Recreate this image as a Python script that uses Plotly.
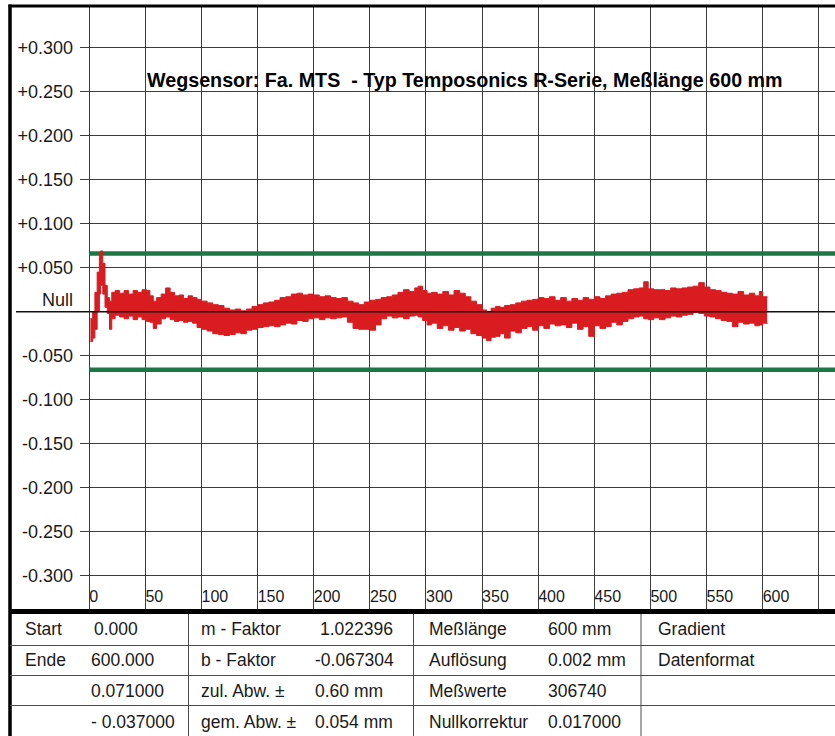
import plotly.graph_objects as go

# ---------------- data ----------------
x_pos = [1, 3, 5, 7, 9, 10, 12, 14, 16, 18, 20, 23, 27, 31, 35, 39, 43, 47, 51, 54,
         57, 60, 64, 68, 72, 76, 80, 84, 88, 92, 96, 100, 105, 110, 115, 120, 125, 130, 135, 140,
         145, 150, 155, 160, 165, 170, 175, 180, 185, 190, 195, 200, 205, 210, 215, 220, 225, 230, 235, 240,
         245, 250, 255, 260, 265, 270, 275, 280, 285, 290, 293, 297, 301, 305, 310, 315, 320, 325, 330, 335,
         340, 345, 350, 354, 358, 362, 366, 370, 375, 380, 385, 390, 395, 400, 405, 410, 415, 420, 425, 430,
         435, 440, 445, 450, 455, 460, 465, 470, 475, 480, 485, 490, 494, 498, 503, 508, 513, 518, 523, 528,
         533, 538, 543, 548, 553, 558, 563, 568, 573, 578, 583, 588, 593, 597, 600, 604]

dev_max = [-0.008, 0.000, 0.022, 0.045, 0.066, 0.069, 0.055, 0.030, 0.016, 0.012, 0.022, 0.024, 0.021, 0.024, 0.020, 0.024, 0.022, 0.025, 0.024, 0.018,
           0.012, 0.016, 0.020, 0.027, 0.022, 0.018, 0.019, 0.015, 0.018, 0.016, 0.014, 0.012, 0.010, 0.008, 0.007, 0.004, 0.002, 0.003, 0.001, 0.003,
           0.006, 0.008, 0.010, 0.011, 0.013, 0.016, 0.017, 0.020, 0.021, 0.019, 0.020, 0.019, 0.017, 0.018, 0.016, 0.015, 0.016, 0.012, 0.010, 0.008,
           0.011, 0.013, 0.014, 0.016, 0.017, 0.019, 0.022, 0.025, 0.023, 0.027, 0.029, 0.024, 0.021, 0.022, 0.020, 0.023, 0.019, 0.024, 0.021, 0.017,
           0.012, 0.008, 0.002, -0.001, 0.004, 0.006, 0.005, 0.007, 0.008, 0.010, 0.012, 0.013, 0.014, 0.016, 0.015, 0.017, 0.013, 0.016, 0.012, 0.015,
           0.013, 0.016, 0.014, 0.017, 0.015, 0.018, 0.020, 0.021, 0.022, 0.025, 0.026, 0.027, 0.034, 0.026, 0.025, 0.025, 0.024, 0.027, 0.026, 0.027,
           0.028, 0.029, 0.033, 0.028, 0.025, 0.024, 0.022, 0.021, 0.020, 0.023, 0.019, 0.021, 0.018, 0.023, 0.017, 0.016]

dev_min = [-0.034, -0.030, -0.020, 0.000, 0.020, 0.030, 0.020, 0.005, -0.002, -0.020, -0.008, -0.004, -0.006, -0.008, -0.005, -0.009, -0.006, -0.009, -0.011, -0.012,
           -0.019, -0.014, -0.008, -0.006, -0.009, -0.011, -0.010, -0.012, -0.011, -0.013, -0.018, -0.020, -0.022, -0.025, -0.026, -0.027, -0.026, -0.024, -0.025, -0.021,
           -0.020, -0.018, -0.017, -0.016, -0.017, -0.015, -0.013, -0.014, -0.010, -0.011, -0.008, -0.007, -0.009, -0.007, -0.008, -0.007, -0.006, -0.012, -0.019, -0.020,
           -0.020, -0.021, -0.015, -0.008, -0.005, -0.007, -0.006, -0.008, -0.005, -0.004, -0.006, -0.010, -0.015, -0.013, -0.019, -0.016, -0.021, -0.018, -0.022, -0.020,
           -0.025, -0.027, -0.030, -0.033, -0.029, -0.028, -0.025, -0.030, -0.022, -0.024, -0.019, -0.017, -0.021, -0.016, -0.019, -0.014, -0.016, -0.015, -0.018, -0.013,
           -0.020, -0.017, -0.028, -0.016, -0.019, -0.017, -0.012, -0.015, -0.011, -0.008, -0.006, -0.005, -0.008, -0.009, -0.007, -0.009, -0.007, -0.005, -0.006, -0.004,
           -0.003, -0.001, -0.002, -0.005, -0.006, -0.008, -0.010, -0.011, -0.017, -0.012, -0.014, -0.013, -0.016, -0.015, -0.013, -0.014]

tolerance = 0.066
x_ticks = [0, 50, 100, 150, 200, 250, 300, 350, 400, 450, 500, 550, 600, 650]
x_ticklabels = ["0", "50", "100", "150", "200", "250", "300", "350", "400", "450", "500", "550", "600", ""]
y_ticks = [0.30, 0.25, 0.20, 0.15, 0.10, 0.05, 0.0, -0.05, -0.10, -0.15, -0.20, -0.25, -0.30]
y_ticklabels = ["+0.300", "+0.250", "+0.200", "+0.150", "+0.100", "+0.050", "Null<br>\u00a0",
                "-0.050", "-0.100", "-0.150", "-0.200", "-0.250", "-0.300"]

title_text = "Wegsensor: Fa. MTS\u00a0\u00a0- Typ Temposonics R-Serie, Meßlänge 600 mm"

table_labels = [
    ["Start", "Ende", "", ""],
    ["m - Faktor", "b - Faktor", "zul. Abw. ±", "gem. Abw. ±"],
    ["Meßlänge", "Auflösung", "Meßwerte", "Nullkorrektur"],
    ["Gradient", "Datenformat", "", ""],
]
table_values = [
    ["0.000", "600.000", "0.071000", "- 0.037000"],
    ["1.022396", "-0.067304", "0.60 mm", "0.054 mm"],
    ["600 mm", "0.002 mm", "306740", "0.017000"],
    ["", "", "", ""],
]

# ---------------- layout geometry (pixels) ----------------
W, H = 835, 736
FONT = "Liberation Sans, Arial, Helvetica, sans-serif"


def px(x):
    return x / W


def py(y):
    return 1 - y / H


fig = go.Figure()

# tolerance lines
fig.add_trace(go.Scatter(x=[0, 700], y=[tolerance, tolerance], mode="lines",
                         line=dict(color="#1b7744", width=4.5), hoverinfo="skip"))
fig.add_trace(go.Scatter(x=[0, 700], y=[-tolerance, -tolerance], mode="lines",
                         line=dict(color="#1b7744", width=4.5), hoverinfo="skip"))

# deviation band
red = "#d81c20"
fig.add_trace(go.Scatter(x=x_pos, y=dev_min, mode="lines", line=dict(color=red, width=1, shape="hv"),
                         hoverinfo="skip"))
fig.add_trace(go.Scatter(x=x_pos, y=dev_max, mode="lines", line=dict(color=red, width=1, shape="hv"),
                         fill="tonexty", fillcolor=red, hoverinfo="skip"))

shapes = []
# Null line
shapes.append(dict(type="line", xref="paper", yref="y", x0=px(16), x1=1, y0=0, y1=0,
                   line=dict(color="#111111", width=1.5), layer="above"))
# borders
shapes.append(dict(type="line", xref="paper", yref="paper", x0=px(10), x1=px(10), y0=py(4.5), y1=py(740),
                   line=dict(color="black", width=3.5)))
shapes.append(dict(type="line", xref="paper", yref="paper", x0=px(8.5), x1=1, y0=py(6), y1=py(6),
                   line=dict(color="black", width=3)))
shapes.append(dict(type="line", xref="paper", yref="paper", x0=px(10), x1=1, y0=py(611.5), y1=py(611.5),
                   line=dict(color="black", width=5)))
# table lines
for yy in [645.5, 675.5, 705.5]:
    shapes.append(dict(type="line", xref="paper", yref="paper", x0=px(10), x1=1, y0=py(yy), y1=py(yy),
                       line=dict(color="#4a4a4a", width=1)))
for xx in [188.5, 413.5, 641]:
    shapes.append(dict(type="line", xref="paper", yref="paper", x0=px(xx), x1=px(xx), y0=py(614), y1=py(740),
                       line=dict(color="#4a4a4a", width=1)))

annotations = []
annotations.append(dict(text="<b>" + title_text + "</b>", xref="paper", yref="paper",
                        x=px(145), y=py(80), xanchor="left", yanchor="middle", showarrow=False,
                        font=dict(family=FONT, size=19.7, color="black")))

row_y = [629, 660, 691, 722]
label_x = [23, 199, 427, 656]
value_x = [[92, 89, 89, 89], [318, 313, 313, 313], [546, 546, 546, 546], [760, 760, 760, 760]]
for c in range(4):
    for r in range(4):
        if table_labels[c][r]:
            annotations.append(dict(text=table_labels[c][r], xref="paper", yref="paper",
                                    x=px(label_x[c]), y=py(row_y[r]), xanchor="left", yanchor="middle",
                                    showarrow=False, font=dict(family=FONT, size=17.5, color="#1a1a1a")))
        if table_values[c][r]:
            annotations.append(dict(text=table_values[c][r], xref="paper", yref="paper",
                                    x=px(value_x[c][r]), y=py(row_y[r]), xanchor="left", yanchor="middle",
                                    showarrow=False, font=dict(family=FONT, size=17.5, color="#1a1a1a")))

x0_px, x_scale = 89.3, 1.1223
y0_px, y_scale = 311.7, 880.0

fig.update_layout(
    width=W, height=H,
    margin=dict(l=0, r=0, t=0, b=0),
    paper_bgcolor="white", plot_bgcolor="white",
    showlegend=False, hovermode=False,
    shapes=shapes, annotations=annotations,
    xaxis=dict(domain=[80 / W, 1],
               range=[(80 - x0_px) / x_scale, (W - x0_px) / x_scale],
               tickmode="array", tickvals=x_ticks, ticktext=x_ticklabels,
               ticklabelposition="inside right", ticks="", ticklabelstandoff=0,
               showgrid=True, gridcolor="#3c3c3c", gridwidth=1,
               zeroline=False, showline=False,
               tickfont=dict(family=FONT, size=16, color="#1a1a1a")),
    yaxis=dict(domain=[py(611), py(7)],
               range=[(y0_px - 611) / y_scale, (y0_px - 7) / y_scale],
               tickmode="array", tickvals=y_ticks, ticktext=y_ticklabels,
               ticks="", ticklabelstandoff=6,
               showgrid=True, gridcolor="#3c3c3c", gridwidth=1,
               zeroline=False, showline=False,
               tickfont=dict(family=FONT, size=18, color="#1a1a1a")),
)

fig.write_html("out.html", config={"displayModeBar": False},
               post_script="document.body.style.margin='0';document.body.style.overflow='hidden';")
